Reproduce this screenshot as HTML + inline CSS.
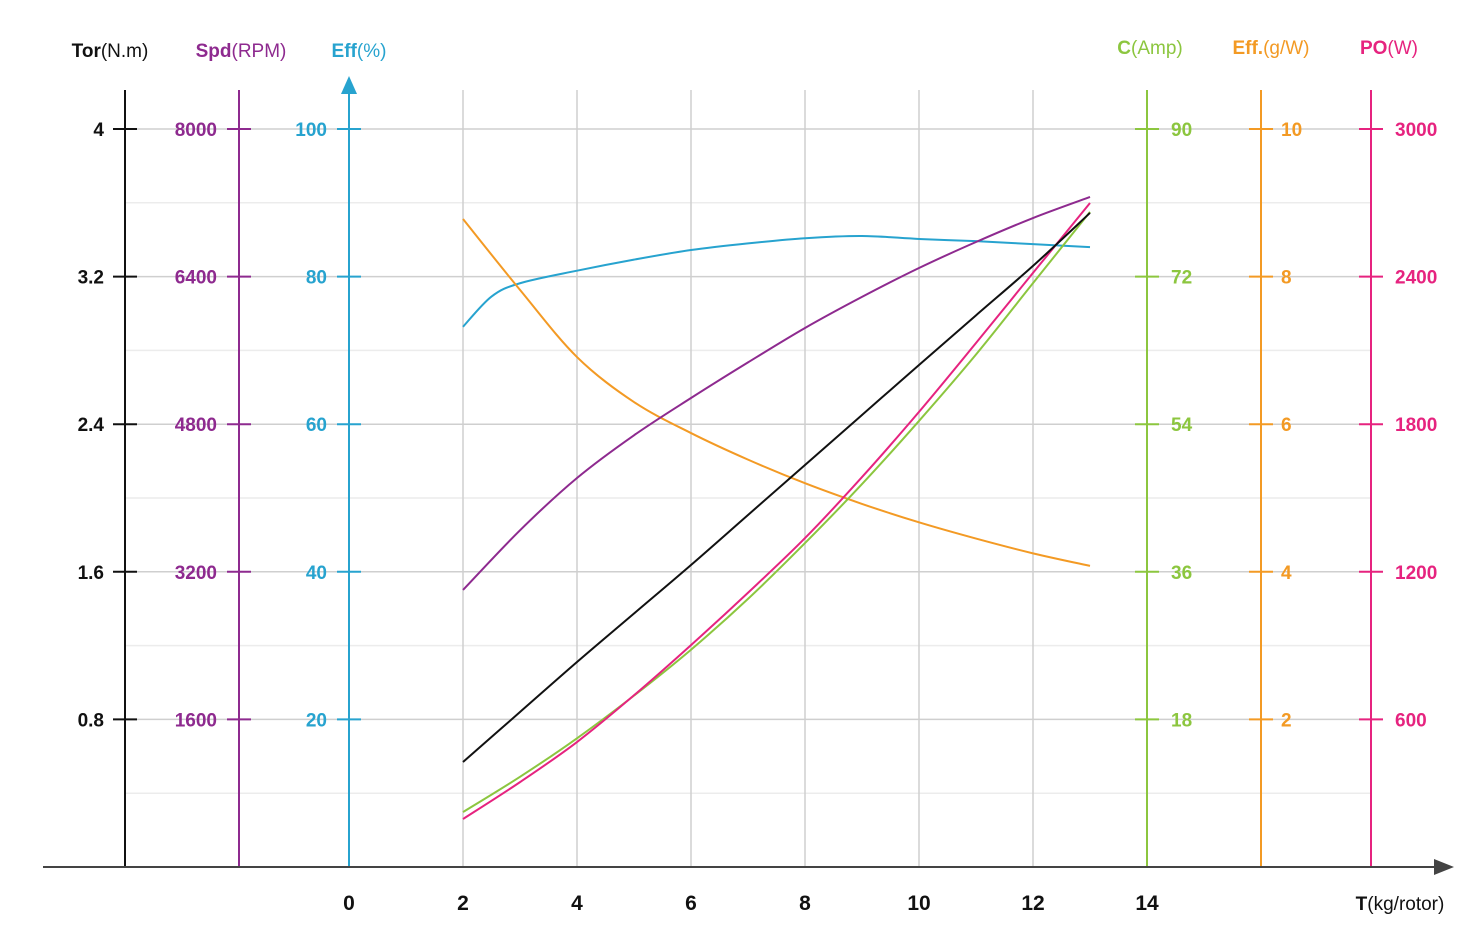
<!DOCTYPE html>
<html><head><meta charset="utf-8"><style>
html,body{margin:0;padding:0;background:#fff;}
svg{display:block;font-family:"Liberation Sans",sans-serif;}
</style></head><body>
<svg id="chart" width="1480" height="928" viewBox="0 0 1480 928" xmlns="http://www.w3.org/2000/svg"></svg>
<script>
// ---- data ----
const thrust = [2, 2.5, 3, 4, 5, 6, 7, 8, 9, 10, 11, 12, 13];
const effPct = [73.2, 77.3, 79.1, 80.8, 82.3, 83.6, 84.5, 85.2, 85.5, 85.1, 84.8, 84.4, 84.0];
const thrustB = [2, 3, 4, 5, 6, 7, 8, 9, 10, 11, 12, 13];
const effGW = [8.78, 7.82, 6.91, 6.30, 5.88, 5.52, 5.20, 4.92, 4.67, 4.45, 4.25, 4.08];
const thrustC = [2, 3, 4, 5, 6, 7, 8, 9, 10, 11, 12, 13];
const speedRpm = [3003, 3650, 4217, 4680, 5084, 5470, 5843, 6180, 6493, 6775, 7035, 7263];
const torqueNm = [0.569, 0.840, 1.111, 1.374, 1.637, 1.908, 2.179, 2.450, 2.721, 2.990, 3.258, 3.545];
const currentA = [6.7, 11.0, 15.7, 20.9, 26.5, 32.7, 39.5, 46.7, 54.4, 62.5, 71.2, 79.9];
const powerW = [195, 345, 508, 698, 902, 1115, 1337, 1585, 1850, 2130, 2415, 2699];
const xTicks = [0, 2, 4, 6, 8, 10, 12, 14];
const torTicks = ["4", "3.2", "2.4", "1.6", "0.8"];
const spdTicks = ["8000", "6400", "4800", "3200", "1600"];
const effTicks = ["100", "80", "60", "40", "20"];
const curTicks = ["90", "72", "54", "36", "18"];
const gwTicks = ["10", "8", "6", "4", "2"];
const poTicks = ["3000", "2400", "1800", "1200", "600"];

const NS = "http://www.w3.org/2000/svg";
const svg = document.getElementById("chart");
const X0 = 349, XU = 57, Y0 = 867, YTOP = 129;
const xs = v => X0 + v * XU;
const ys = (v, max) => Y0 - (v / max) * (Y0 - YTOP);
function el(tag, attrs, parent) {
  const e = document.createElementNS(NS, tag);
  for (const k in attrs) e.setAttribute(k, attrs[k]);
  (parent || svg).appendChild(e);
  return e;
}
function txt(s, x, y, color, size, anchor, weight) {
  const t = el("text", {x: x, y: y, fill: color, "font-size": size, "text-anchor": anchor || "middle", "font-weight": weight || "bold"});
  t.textContent = s;
  return t;
}
const C = {tor: "#111111", spd: "#8e2a8f", eff: "#27a3cf", cur: "#8cc63f", gw: "#f39a24", po: "#e6237f"};

// grid
for (let i = 0; i < 10; i++) {
  const y = YTOP + i * (Y0 - YTOP) / 10;
  const g = el("line", {x1: 125, x2: 1371, y1: y, y2: y, stroke: i % 2 ? "#ececec" : "#cfcfcf", "stroke-width": 1.5});
  
  
}
for (const v of xTicks) {
  if (v === 0 || v === 14) continue;
  const g = el("line", {x1: xs(v), x2: xs(v), y1: 90, y2: Y0, stroke: "#cfcfcf", "stroke-width": 1.5});
  
  
}

// vertical axes
const axes = [
  {x: 125, c: C.tor, ticks: torTicks, lx: 104, anchor: "end", name: "torque-axis", title: ["Tor", "(N.m)"], tx: 110},
  {x: 239, c: C.spd, ticks: spdTicks, lx: 217, anchor: "end", name: "speed-axis", title: ["Spd", "(RPM)"], tx: 241},
  {x: 349, c: C.eff, ticks: effTicks, lx: 327, anchor: "end", name: "efficiency-axis", title: ["Eff", "(%)"], tx: 359},
  {x: 1147, c: C.cur, ticks: curTicks, lx: 1171, anchor: "start", name: "current-axis", title: ["C", "(Amp)"], tx: 1150, ty: 54},
  {x: 1261, c: C.gw, ticks: gwTicks, lx: 1281, anchor: "start", name: "efficiency-gw-axis", title: ["Eff.", "(g/W)"], tx: 1271, ty: 54},
  {x: 1371, c: C.po, ticks: poTicks, lx: 1395, anchor: "start", name: "power-axis", title: ["PO", "(W)"], tx: 1389, ty: 54}
];
for (const a of axes) {
  const g = el("g", {});
  
  
  el("line", {x1: a.x, x2: a.x, y1: a.name === "efficiency-axis" ? 88 : 90, y2: Y0, stroke: a.c, "stroke-width": 2}, g);
  a.ticks.forEach((t, i) => {
    const y = YTOP + i * (Y0 - YTOP) / 5;
    el("line", {x1: a.x - 12, x2: a.x + 12, y1: y, y2: y, stroke: a.c, "stroke-width": 2}, g);
    const tt = txt(t, a.lx, y + 7, a.c, 19, a.anchor);
    g.appendChild(tt);
  });
  const title = el("text", {x: a.tx, y: a.ty || 57, fill: a.c, "font-size": 19, "text-anchor": "middle"}, g);
  
  
  const b = el("tspan", {"font-weight": "bold"}, title); b.textContent = a.title[0];
  const n = el("tspan", {}, title); n.textContent = a.title[1];
}
const arr = el("polygon", {points: "349,76 341,94 357,94", fill: C.eff});



// x axis
const xa = el("g", {});


el("line", {x1: 43, x2: 1440, y1: Y0, y2: Y0, stroke: "#444", "stroke-width": 2}, xa);
el("polygon", {points: "1454,867 1434,859 1434,875", fill: "#444"}, xa);
for (const v of xTicks) xa.appendChild(txt(String(v), xs(v), 910, "#111", 21, "middle"));
const xt = el("text", {x: 1400, y: 910, fill: "#111", "font-size": 19, "text-anchor": "middle"}, xa);


const xb = el("tspan", {"font-weight": "bold"}, xt); xb.textContent = "T";
const xn = el("tspan", {}, xt); xn.textContent = "(kg/rotor)";

// curves
function smoothPath(pts) {
  let d = "M" + pts[0][0] + "," + pts[0][1];
  for (let i = 0; i < pts.length - 1; i++) {
    const p0 = pts[i - 1] || pts[i], p1 = pts[i], p2 = pts[i + 1], p3 = pts[i + 2] || p2;
    const c1x = p1[0] + (p2[0] - p0[0]) / 6, c1y = p1[1] + (p2[1] - p0[1]) / 6;
    const c2x = p2[0] - (p3[0] - p1[0]) / 6, c2y = p2[1] - (p3[1] - p1[1]) / 6;
    d += " C" + c1x + "," + c1y + " " + c2x + "," + c2y + " " + p2[0] + "," + p2[1];
  }
  return d;
}
function series(xv, yv, max, color, name) {
  const pts = xv.map((v, i) => [xs(v), ys(yv[i], max)]);
  const p = el("path", {d: smoothPath(pts), fill: "none", stroke: color, "stroke-width": 2});
  
  
}
series(thrust, effPct, 100, C.eff, "efficiency-percent-curve");
series(thrustB, effGW, 10, C.gw, "efficiency-gw-curve");
series(thrustC, speedRpm, 8000, C.spd, "speed-curve");
series(thrustC, currentA, 90, C.cur, "current-curve");
series(thrustC, powerW, 3000, C.po, "power-curve");
series(thrustC, torqueNm, 4, C.tor, "torque-curve");
</script>
</body></html>
